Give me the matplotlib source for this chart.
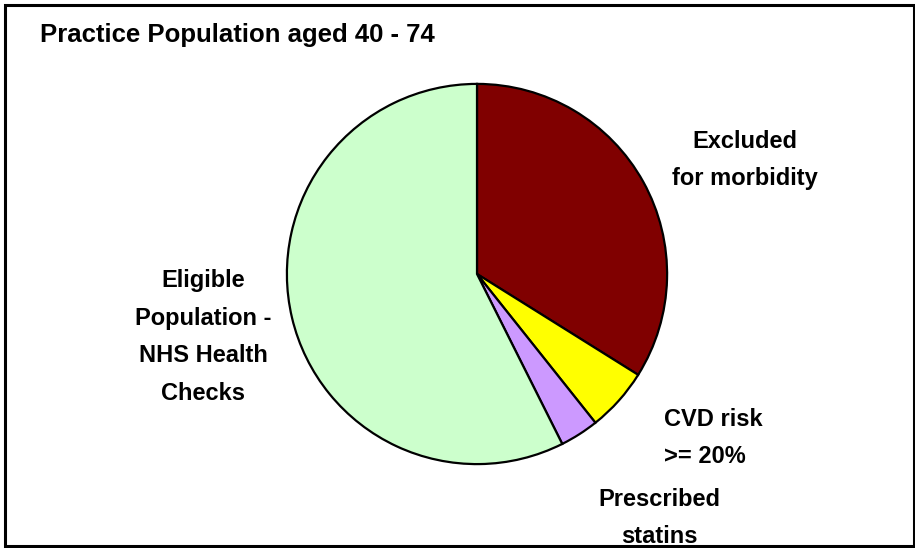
import matplotlib
matplotlib.use("Agg")
import matplotlib.pyplot as plt
from matplotlib.patches import Rectangle

# --- data ------------------------------------------------------------------
labels = ["Excluded\nfor morbidity", "CVD risk\n>= 20%", "Prescribed\nstatins",
          "Eligible\nPopulation -\nNHS Health\nChecks"]
values = [33.9, 5.4, 3.3, 57.4]
colors = ["#800000", "#FFFF00", "#CC99FF", "#CCFFCC"]
title = "Practice Population aged 40 - 74"

# label anchor points in pixels (x from left, y from top) and alignment
label_pos = [(745, 160, "center"), (664, 438, "left"), (659, 518, "center"),
             (203, 337, "center")]

W, H = 915, 548
plt.rcParams["font.family"] = ["Liberation Sans", "DejaVu Sans"]

fig = plt.figure(figsize=(W / 100, H / 100), dpi=100)
fig.patch.set_facecolor("white")

# outer chart frame
fig.add_artist(Rectangle((5 / W, 2 / H), 909 / W, 541 / H, transform=fig.transFigure,
                         fill=False, edgecolor="black", linewidth=2.2))

# pie: centre (477, 274), radius 192 px
cx, cy, r = 477, 274, 192
ax = fig.add_axes([(cx - r) / W, (H - cy - r) / H, 2 * r / W, 2 * r / H])
ax.pie(values, colors=colors, startangle=90, counterclock=False,
       wedgeprops=dict(edgecolor="black", linewidth=1.6))
ax.set_xlim(-1.01, 1.01)
ax.set_ylim(-1.01, 1.01)
ax.set_aspect("equal")
ax.axis("off")

fig.text(40 / W, 1 - 35 / H, title, fontsize=18.5, fontweight="bold",
         ha="left", va="center")

for lab, (x, y, ha) in zip(labels, label_pos):
    fig.text(x / W, 1 - y / H, lab, fontsize=17, fontweight="bold",
             ha=ha, va="center", multialignment=ha, linespacing=1.8)

fig.savefig("out.png", dpi=100)
